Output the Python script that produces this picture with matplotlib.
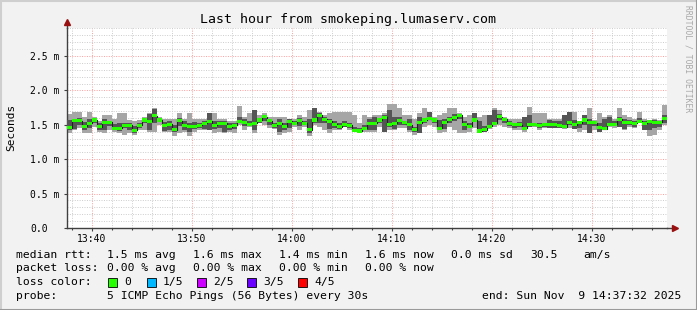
from datetime import datetime, timedelta
import matplotlib
matplotlib.use('Agg')
import matplotlib.pyplot as plt
import matplotlib.dates as mdates
from matplotlib.ticker import MultipleLocator, FuncFormatter
from matplotlib.patches import Rectangle
from matplotlib.lines import Line2D
import numpy as np

# 120 steps of 30 s, values in ms
median = [1.46, 1.56, 1.56, 1.48, 1.52, 1.57, 1.47, 1.54, 1.54, 1.45, 1.45, 1.49, 1.49, 1.42, 1.49, 1.57, 1.55, 1.63, 1.57, 1.49, 1.51, 1.43, 1.56, 1.49,
          1.47, 1.48, 1.49, 1.52, 1.55, 1.49, 1.52, 1.52, 1.47, 1.49, 1.55, 1.53, 1.51, 1.52, 1.57, 1.62, 1.56, 1.49, 1.52, 1.48, 1.55, 1.52, 1.56, 1.52,
          1.43, 1.57, 1.64, 1.58, 1.55, 1.51, 1.47, 1.50, 1.49, 1.42, 1.41, 1.45, 1.52, 1.52, 1.57, 1.61, 1.50, 1.52, 1.56, 1.53, 1.50, 1.43, 1.53, 1.57,
          1.59, 1.57, 1.45, 1.54, 1.58, 1.60, 1.64, 1.51, 1.48, 1.57, 1.41, 1.43, 1.48, 1.52, 1.62, 1.58, 1.52, 1.50, 1.50, 1.45, 1.51, 1.50, 1.49, 1.50,
          1.51, 1.51, 1.49, 1.47, 1.53, 1.50, 1.53, 1.57, 1.53, 1.53, 1.46, 1.44, 1.51, 1.51, 1.58, 1.54, 1.54, 1.52, 1.55, 1.52, 1.55, 1.53, 1.54, 1.59]
ping_max = [1.66, 1.68, 1.68, 1.62, 1.69, 1.62, 1.56, 1.64, 1.64, 1.59, 1.67, 1.67, 1.57, 1.55, 1.57, 1.62, 1.67, 1.74, 1.62, 1.59, 1.59, 1.59, 1.67, 1.59,
            1.67, 1.59, 1.59, 1.59, 1.67, 1.67, 1.59, 1.59, 1.55, 1.55, 1.77, 1.62, 1.67, 1.71, 1.64, 1.67, 1.62, 1.62, 1.62, 1.62, 1.59, 1.59, 1.64, 1.62,
            1.71, 1.74, 1.69, 1.64, 1.67, 1.69, 1.69, 1.69, 1.69, 1.64, 1.52, 1.64, 1.62, 1.64, 1.64, 1.67, 1.80, 1.80, 1.74, 1.64, 1.64, 1.59, 1.67, 1.74,
            1.69, 1.62, 1.64, 1.67, 1.74, 1.74, 1.67, 1.62, 1.64, 1.67, 1.62, 1.64, 1.64, 1.74, 1.71, 1.62, 1.59, 1.59, 1.59, 1.62, 1.76, 1.67, 1.67, 1.67,
            1.59, 1.59, 1.59, 1.64, 1.69, 1.69, 1.55, 1.64, 1.74, 1.57, 1.67, 1.62, 1.64, 1.59, 1.74, 1.64, 1.62, 1.59, 1.69, 1.59, 1.57, 1.59, 1.57, 1.79]
ping_q3 = [1.57, 1.58, 1.60, 1.54, 1.58, 1.60, 1.52, 1.58, 1.56, 1.51, 1.52, 1.53, 1.52, 1.48, 1.53, 1.59, 1.65, 1.73, 1.59, 1.54, 1.56, 1.50, 1.60, 1.55,
           1.52, 1.54, 1.53, 1.56, 1.67, 1.55, 1.55, 1.56, 1.52, 1.53, 1.62, 1.58, 1.55, 1.71, 1.60, 1.64, 1.59, 1.53, 1.59, 1.52, 1.58, 1.55, 1.60, 1.55,
           1.59, 1.74, 1.67, 1.62, 1.58, 1.56, 1.52, 1.55, 1.53, 1.47, 1.46, 1.50, 1.59, 1.62, 1.60, 1.64, 1.71, 1.62, 1.62, 1.56, 1.59, 1.47, 1.61, 1.60,
           1.69, 1.59, 1.57, 1.58, 1.62, 1.65, 1.66, 1.55, 1.53, 1.67, 1.55, 1.48, 1.64, 1.71, 1.66, 1.60, 1.55, 1.53, 1.54, 1.62, 1.64, 1.53, 1.52, 1.53,
           1.57, 1.55, 1.55, 1.64, 1.69, 1.57, 1.55, 1.64, 1.59, 1.55, 1.52, 1.59, 1.62, 1.55, 1.62, 1.58, 1.57, 1.55, 1.60, 1.55, 1.57, 1.57, 1.56, 1.64]
ping_q1 = [1.42, 1.44, 1.50, 1.42, 1.45, 1.52, 1.42, 1.43, 1.48, 1.42, 1.41, 1.46, 1.42, 1.38, 1.46, 1.52, 1.42, 1.52, 1.54, 1.41, 1.42, 1.40, 1.48, 1.42,
           1.40, 1.44, 1.45, 1.44, 1.42, 1.44, 1.46, 1.40, 1.42, 1.44, 1.52, 1.48, 1.48, 1.42, 1.53, 1.55, 1.49, 1.46, 1.40, 1.42, 1.45, 1.50, 1.48, 1.49,
           1.38, 1.52, 1.52, 1.52, 1.44, 1.46, 1.44, 1.47, 1.45, 1.40, 1.39, 1.42, 1.42, 1.42, 1.52, 1.40, 1.47, 1.44, 1.49, 1.50, 1.42, 1.40, 1.38, 1.52,
           1.57, 1.52, 1.42, 1.44, 1.52, 1.56, 1.58, 1.42, 1.45, 1.57, 1.40, 1.40, 1.46, 1.49, 1.57, 1.53, 1.48, 1.45, 1.47, 1.43, 1.47, 1.48, 1.45, 1.47,
           1.45, 1.45, 1.45, 1.45, 1.50, 1.44, 1.45, 1.50, 1.38, 1.48, 1.40, 1.42, 1.50, 1.48, 1.47, 1.44, 1.50, 1.47, 1.52, 1.42, 1.42, 1.45, 1.47, 1.52]
ping_min = [1.38, 1.42, 1.45, 1.38, 1.38, 1.47, 1.40, 1.38, 1.42, 1.40, 1.38, 1.35, 1.38, 1.35, 1.42, 1.42, 1.40, 1.40, 1.50, 1.40, 1.40, 1.33, 1.38, 1.40,
            1.33, 1.40, 1.42, 1.42, 1.42, 1.38, 1.40, 1.38, 1.40, 1.38, 1.50, 1.42, 1.47, 1.38, 1.52, 1.50, 1.45, 1.44, 1.35, 1.38, 1.40, 1.47, 1.42, 1.47,
            1.33, 1.50, 1.47, 1.42, 1.38, 1.42, 1.43, 1.47, 1.42, 1.40, 1.38, 1.40, 1.40, 1.40, 1.47, 1.40, 1.42, 1.42, 1.45, 1.45, 1.40, 1.35, 1.38, 1.47,
            1.50, 1.47, 1.38, 1.40, 1.47, 1.42, 1.38, 1.38, 1.40, 1.45, 1.38, 1.40, 1.44, 1.47, 1.50, 1.47, 1.45, 1.42, 1.42, 1.40, 1.47, 1.47, 1.42, 1.45,
            1.45, 1.45, 1.45, 1.44, 1.45, 1.44, 1.40, 1.42, 1.38, 1.42, 1.40, 1.42, 1.47, 1.45, 1.47, 1.42, 1.47, 1.45, 1.52, 1.42, 1.33, 1.35, 1.42, 1.50]

loss_labels = ['0', '1/5', '2/5', '3/5', '4/5']
loss_colors = ['#26ff00', '#00b8ff', '#cc00ff', '#6a00ff', '#ff0000']

start = datetime(2025, 11, 9, 13, 37, 32)
step = 30

W, H = 697, 310
fig = plt.figure(figsize=(W / 100, H / 100), dpi=100)
fig.patch.set_facecolor('#f2f2f2')
ax = fig.add_axes([67 / W, (H - 228) / H, 600 / W, 200 / H])
ax.set_facecolor('white')

times = [start + timedelta(seconds=step * i) for i in range(len(median) + 1)]
x = mdates.date2num(times)
w = step / 86400.0
med = np.array(median)
hi = np.array(ping_max)
lo = np.array(ping_min)
q3 = np.array(ping_q3)
q1 = np.array(ping_q1)

# smoke: outer pair of pings light, inner pair dark, then median line in loss colour
ax.bar(x[:-1], hi - lo, bottom=lo, width=w, align='edge', color='#a6a6a6', linewidth=0, zorder=2)
ax.bar(x[:-1], q3 - q1, bottom=q1, width=w, align='edge', color='#555555', linewidth=0, zorder=3)
ax.step(x, np.append(med, med[-1]), where='post', color='#202020', lw=0.8, zorder=4)
ax.bar(x[:-1], 0.045, bottom=med - 0.0225, width=w, align='edge', color=loss_colors[0], linewidth=0, zorder=5)

ax.set_xlim(x[0], mdates.date2num(start + timedelta(hours=1)))
ax.set_ylim(0, 2.907)
ax.xaxis.set_major_locator(mdates.MinuteLocator(byminute=range(0, 60, 10)))
ax.xaxis.set_minor_locator(mdates.MinuteLocator(byminute=range(0, 60, 2)))
ax.xaxis.set_major_formatter(mdates.DateFormatter('%H:%M'))
ax.yaxis.set_major_locator(MultipleLocator(0.5))
ax.yaxis.set_minor_locator(MultipleLocator(0.1))
ax.yaxis.set_major_formatter(FuncFormatter(lambda v, p: '0.0' if v == 0 else '%.1f m' % v))

ax.set_axisbelow(True)
ax.grid(which='minor', color='#cccccc', ls=(0, (1, 1.5)), lw=0.7)
ax.grid(which='major', color='#ff9c9c', ls=(0, (1, 1.5)), lw=0.7)

for s in ['top', 'right']:
    ax.spines[s].set_visible(False)
for s in ['left', 'bottom']:
    ax.spines[s].set_color('#404040')
    ax.spines[s].set_linewidth(1)
ax.plot([0, 0], [1, 1.03], transform=ax.transAxes, color='#404040', lw=1, clip_on=False)
ax.plot([1, 1.013], [0, 0], transform=ax.transAxes, color='#404040', lw=1, clip_on=False)
ax.plot([0], [1.03], marker='^', ms=4, color='#9a1010', transform=ax.transAxes, clip_on=False)
ax.plot([1.013], [0], marker='>', ms=4, color='#9a1010', transform=ax.transAxes, clip_on=False)

mono = 'DejaVu Sans Mono'
ax.tick_params(axis='x', which='major', length=2.5, width=0.8, color='#404040', pad=2,
               labelsize=7, labelfontfamily=mono)
ax.tick_params(axis='x', which='minor', length=1.5, width=0.8, color='#404040')
ax.tick_params(axis='y', which='major', length=2, width=0.8, color='#404040', pad=24.5,
               labelsize=7, labelfontfamily=mono)
ax.tick_params(axis='y', which='minor', length=0)
for lab in ax.get_yticklabels():
    lab.set_horizontalalignment('left')


def ftext(px, py, s, **kw):
    kw.setdefault('family', mono)
    kw.setdefault('va', 'center')
    fig.text(px / W, 1 - py / H, s, **kw)


ftext(348, 19, 'Last hour from smokeping.lumaserv.com', fontsize=9.5, ha='center')
ftext(11, 127, 'Seconds', fontsize=8, ha='center', rotation=90)
ftext(688, 5, 'RRDTOOL / TOBI OETIKER', fontsize=5.8, ha='center', va='top',
      rotation=270, color='#a8a8a8')

fs = 8.2
ftext(16, 255, 'median rtt:', fontsize=fs)
for px, s in zip([107, 193, 279, 365, 451, 530, 583],
                 ['1.5 ms avg', '1.6 ms max', '1.4 ms min', '1.6 ms now', '0.0 ms sd', '30.5', 'am/s']):
    ftext(px, 255, s, fontsize=fs)
ftext(16, 268, 'packet loss:', fontsize=fs)
for px, s in zip([107, 193, 279, 365], ['0.00 % avg', '0.00 % max', '0.00 % min', '0.00 % now']):
    ftext(px, 268, s, fontsize=fs)
ftext(16, 282, 'loss color:', fontsize=fs)
for px, lab, col in zip([108, 147, 197, 247, 298], loss_labels, loss_colors):
    fig.add_artist(Rectangle((px / W, 1 - 287 / H), 9 / W, 9 / H, transform=fig.transFigure,
                             facecolor=col, edgecolor='black', lw=0.6))
    ftext(px + 16, 282, lab, fontsize=fs)
ftext(16, 296, 'probe:', fontsize=fs)
ftext(107, 296, '5 ICMP Echo Pings (56 Bytes) every 30s', fontsize=fs)
ftext(681, 296, 'end: Sun Nov  9 14:37:32 2025', fontsize=fs, ha='right')

# frame round the whole image
fig.add_artist(Line2D([0, 1], [1 - 0.5 / H, 1 - 0.5 / H], transform=fig.transFigure, color='#cfcfcf', lw=1.5))
fig.add_artist(Line2D([0.5 / W, 0.5 / W], [0, 1], transform=fig.transFigure, color='#cfcfcf', lw=1.5))
fig.add_artist(Line2D([0, 1], [0.5 / H, 0.5 / H], transform=fig.transFigure, color='#9a9a9a', lw=1.5))
fig.add_artist(Line2D([1 - 0.5 / W, 1 - 0.5 / W], [0, 1], transform=fig.transFigure, color='#9a9a9a', lw=1.5))

fig.savefig('out.png', dpi=100, facecolor=fig.get_facecolor())
